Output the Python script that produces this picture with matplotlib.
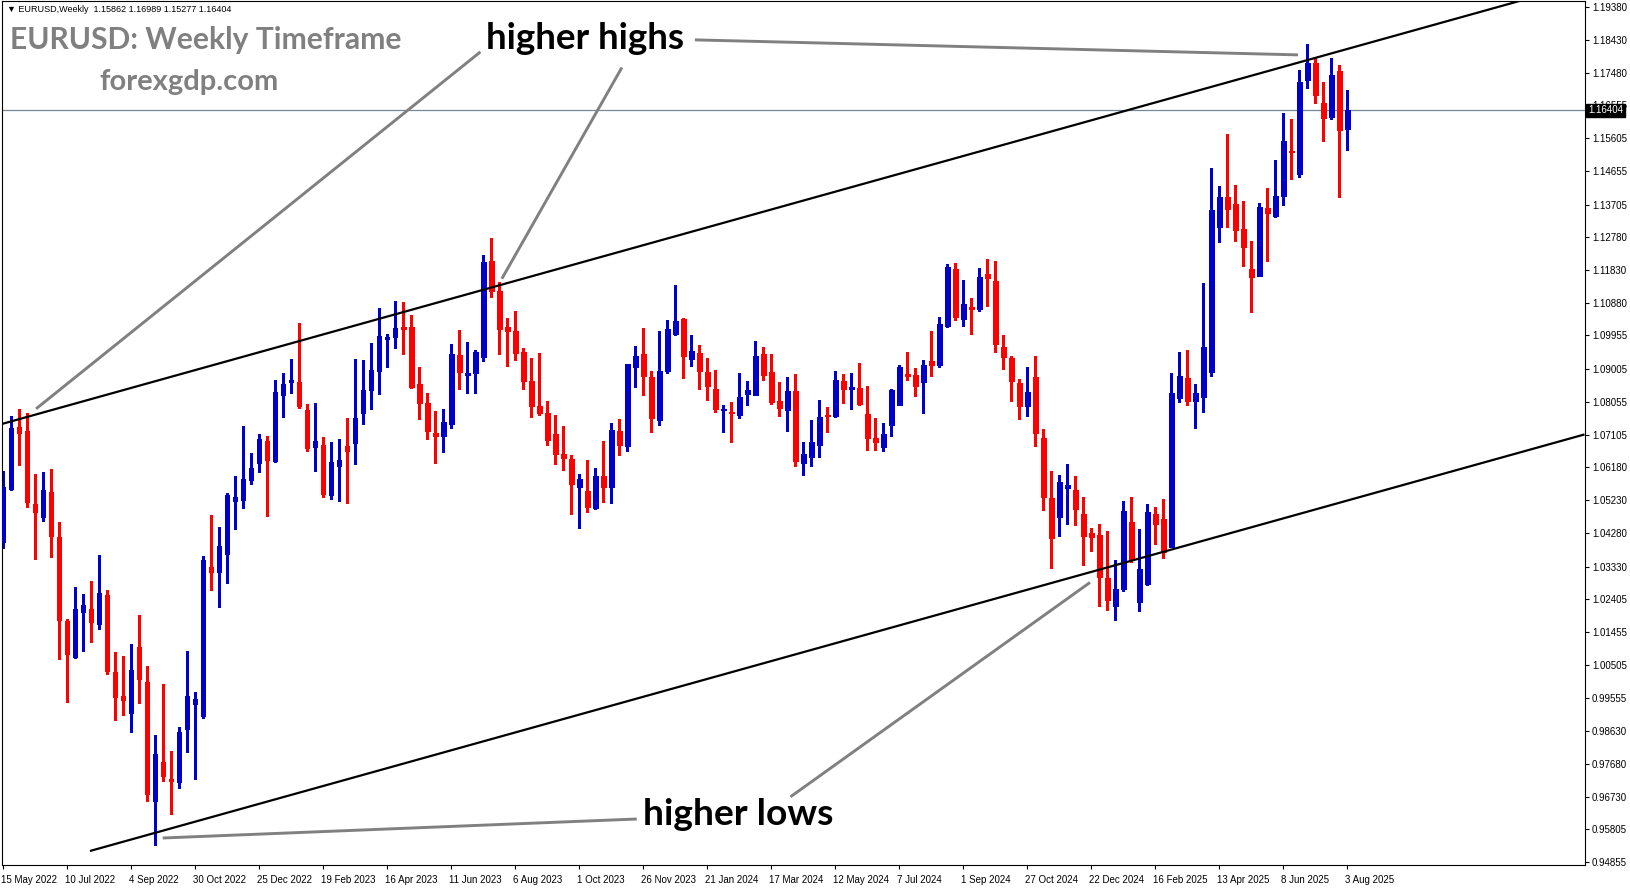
import numpy as np
import pandas as pd
import matplotlib
matplotlib.use("Agg")
import matplotlib.pyplot as plt
import matplotlib.transforms as mtransforms

## Data: EURUSD weekly candles, week of 15 May 2022 .. week of 3 Aug 2025
opens = [1.0405, 1.0556, 1.0733, 1.0722, 1.0513, 1.0474, 1.0547, 1.0418, 1.0178, 1.0075,
         1.0204, 1.0212, 1.0170, 1.0252, 1.0031, 0.9963, 0.9915, 1.0103, 1.0002, 0.9662,
         0.9773, 0.9725, 0.9717, 0.9869, 0.9940, 0.9905, 1.0332, 1.0319, 1.0368, 1.0522,
         1.0525, 1.0580, 1.0631, 1.0693, 1.0637, 1.0826, 1.0863, 1.0862, 1.0782, 1.0677,
         1.0682, 1.0539, 1.0620, 1.0679, 1.0686, 1.0772, 1.0838, 1.0895, 1.0985, 1.0990,
         1.1020, 1.1020, 1.0857, 1.0802, 1.0716, 1.0706, 1.0743, 1.0940, 1.0881, 1.0889,
         1.0935, 1.1209, 1.1123, 1.1020, 1.1009, 1.0948, 1.0865, 1.0794, 1.0774, 1.0713,
         1.0656, 1.0642, 1.0562, 1.0550, 1.0502, 1.0593, 1.0560, 1.0722, 1.0680, 1.0906,
         1.0942, 1.0877, 1.0754, 1.0895, 1.1001, 1.1043, 1.0929, 1.0946, 1.0891, 1.0842,
         1.0782, 1.0776, 1.0769, 1.0828, 1.0826, 1.0943, 1.0891, 1.0808, 1.0783, 1.0837,
         1.0631, 1.0646, 1.0683, 1.0768, 1.0766, 1.0865, 1.0841, 1.0845, 1.0771, 1.0702,
         1.0677, 1.0740, 1.0797, 1.0885, 1.0882, 1.0863, 1.0922, 1.0912, 1.1023, 1.1186,
         1.1044, 1.1077, 1.1072, 1.1172, 1.1152, 1.0963, 1.0931, 1.0859, 1.0792, 1.0877,
         1.0702, 1.0531, 1.0476, 1.0559, 1.0553, 1.0484, 1.0429, 1.0424, 1.0300, 1.0220,
         1.0270, 1.0461, 1.0233, 1.0284, 1.0484, 1.0470, 1.0390, 1.0817, 1.0874, 1.0809,
         1.0820, 1.0892, 1.1305, 1.1393, 1.1373, 1.1301, 1.1186, 1.1167, 1.1361, 1.1339,
         1.1396, 1.1525, 1.1457, 1.1729, 1.1777, 1.1662, 1.1622, 1.1754, 1.15862]
highs = [1.0607, 1.0765, 1.0785, 1.0773, 1.0599, 1.0604, 1.0613, 1.0461, 1.0182, 1.0275,
         1.0255, 1.0292, 1.0366, 1.0266, 1.0088, 1.0077, 1.0112, 1.0195, 1.0049, 0.9851,
         0.9997, 0.9805, 0.9873, 1.0091, 0.9974, 1.0363, 1.0481, 1.0448, 1.0544, 1.0593,
         1.0736, 1.0659, 1.0713, 1.0708, 1.0868, 1.0888, 1.0928, 1.1032, 1.0799, 1.0802,
         1.0704, 1.0691, 1.0699, 1.0759, 1.0928, 1.0926, 1.0974, 1.1074, 1.1000, 1.1094,
         1.1092, 1.1054, 1.0905, 1.0831, 1.0779, 1.0785, 1.0971, 1.1011, 1.0977, 1.0954,
         1.1226, 1.1275, 1.1149, 1.1046, 1.1066, 1.0960, 1.0931, 1.0945, 1.0808, 1.0768,
         1.0736, 1.0653, 1.0599, 1.0639, 1.0616, 1.0693, 1.0745, 1.0756, 1.0914, 1.0966,
         1.1017, 1.0894, 1.1008, 1.1040, 1.1140, 1.1046, 1.0996, 1.0968, 1.0931, 1.0897,
         1.0795, 1.0805, 1.0888, 1.0865, 1.0980, 1.0963, 1.0943, 1.0862, 1.0877, 1.0885,
         1.0690, 1.0753, 1.0811, 1.0791, 1.0894, 1.0885, 1.0888, 1.0917, 1.0851, 1.0759,
         1.0745, 1.0842, 1.0911, 1.0948, 1.0902, 1.0925, 1.1008, 1.1049, 1.1200, 1.1203,
         1.1155, 1.1103, 1.1189, 1.1215, 1.1209, 1.0997, 1.0937, 1.0871, 1.0905, 1.0937,
         1.0728, 1.0608, 1.0597, 1.0627, 1.0593, 1.0533, 1.0444, 1.0455, 1.0436, 1.0353,
         1.0522, 1.0533, 1.0441, 1.0513, 1.0505, 1.0526, 1.0888, 1.0949, 1.0954, 1.0857,
         1.1146, 1.1476, 1.1424, 1.1573, 1.1427, 1.1381, 1.1267, 1.1376, 1.1418, 1.1497,
         1.1634, 1.1616, 1.1757, 1.1831, 1.1791, 1.1722, 1.1791, 1.1771, 1.16989]
lows = [1.0386, 1.0553, 1.0624, 1.0503, 1.0355, 1.0465, 1.0362, 1.0068, 0.9946, 1.0070,
        1.0092, 1.0118, 1.0155, 1.0026, 0.9894, 0.9907, 0.9858, 0.9941, 0.9662, 0.9536,
        0.9720, 0.9624, 0.9700, 0.9803, 0.9725, 0.9899, 1.0266, 1.0218, 1.0287, 1.0440,
        1.0502, 1.0571, 1.0603, 1.0479, 1.0634, 1.0763, 1.0832, 1.0789, 1.0663, 1.0608,
        1.0534, 1.0528, 1.0522, 1.0514, 1.0628, 1.0743, 1.0786, 1.0829, 1.0906, 1.0961,
        1.0941, 1.0845, 1.0757, 1.0700, 1.0631, 1.0662, 1.0731, 1.0843, 1.0832, 1.0832,
        1.0921, 1.1107, 1.0941, 1.0909, 1.0926, 1.0843, 1.0763, 1.0769, 1.0683, 1.0628,
        1.0611, 1.0485, 1.0445, 1.0491, 1.0499, 1.0519, 1.0514, 1.0654, 1.0663, 1.0849,
        1.0826, 1.0720, 1.0740, 1.0889, 1.0998, 1.0875, 1.0909, 1.0843, 1.0812, 1.0777,
        1.0720, 1.0691, 1.0760, 1.0795, 1.0826, 1.0869, 1.0800, 1.0766, 1.0723, 1.0620,
        1.0597, 1.0620, 1.0646, 1.0720, 1.0763, 1.0803, 1.0786, 1.0797, 1.0666, 1.0668,
        1.0663, 1.0706, 1.0797, 1.0869, 1.0823, 1.0774, 1.0880, 1.0906, 1.1020, 1.1041,
        1.1024, 1.1001, 1.1067, 1.1081, 1.0949, 1.0898, 1.0809, 1.0757, 1.0766, 1.0680,
        1.0494, 1.0330, 1.0422, 1.0456, 1.0451, 1.0339, 1.0379, 1.0221, 1.0210, 1.0180,
        1.0263, 1.0347, 1.0207, 1.0279, 1.0397, 1.0358, 1.0390, 1.0804, 1.0795, 1.0731,
        1.0775, 1.0878, 1.1262, 1.1307, 1.1265, 1.1196, 1.1063, 1.1167, 1.1210, 1.1336,
        1.1370, 1.1444, 1.1451, 1.1705, 1.1662, 1.1554, 1.1616, 1.1391, 1.15277]
closes = [1.0560, 1.0730, 1.0717, 1.0517, 1.0491, 1.0553, 1.0422, 1.0181, 1.0084, 1.0212,
          1.0223, 1.0173, 1.0258, 1.0035, 0.9960, 0.9952, 1.0037, 1.0010, 0.9682, 0.9796,
          0.9733, 0.9720, 0.9859, 0.9962, 0.9953, 1.0351, 1.0319, 1.0392, 1.0537, 1.0533,
          1.0584, 1.0616, 1.0699, 1.0640, 1.0834, 1.0857, 1.0868, 1.0792, 1.0674, 1.0693,
          1.0542, 1.0633, 1.0639, 1.0663, 1.0759, 1.0839, 1.0897, 1.0994, 1.0990, 1.1017,
          1.1015, 1.0847, 1.0803, 1.0723, 1.0706, 1.0748, 1.0943, 1.0892, 1.0888, 1.0948,
          1.1206, 1.1124, 1.1015, 1.1007, 1.0944, 1.0866, 1.0792, 1.0772, 1.0697, 1.0657,
          1.0643, 1.0571, 1.0584, 1.0505, 1.0593, 1.0562, 1.0725, 1.0683, 1.0914, 1.0937,
          1.0880, 1.0760, 1.0894, 1.1014, 1.1037, 1.0938, 1.0951, 1.0895, 1.0852, 1.0786,
          1.0785, 1.0774, 1.0819, 1.0839, 1.0937, 1.0883, 1.0806, 1.0789, 1.0837, 1.0637,
          1.0656, 1.0690, 1.0762, 1.0766, 1.0868, 1.0843, 1.0848, 1.0799, 1.0703, 1.0689,
          1.0713, 1.0839, 1.0905, 1.0880, 1.0852, 1.0911, 1.0912, 1.1029, 1.1192, 1.1047,
          1.1086, 1.1072, 1.1163, 1.1160, 1.0972, 1.0935, 1.0866, 1.0794, 1.0834, 1.0717,
          1.0534, 1.0416, 1.0576, 1.0567, 1.0499, 1.0422, 1.0419, 1.0304, 1.0238, 1.0270,
          1.0493, 1.0353, 1.0326, 1.0490, 1.0454, 1.0376, 1.0831, 1.0880, 1.0809, 1.0831,
          1.0963, 1.1355, 1.1393, 1.1359, 1.1299, 1.1248, 1.1164, 1.1364, 1.1347, 1.1395,
          1.1553, 1.1521, 1.1721, 1.1777, 1.1686, 1.1620, 1.1742, 1.1583, 1.16404]

start_week = "2022-05-15"
price_ticks = [1.19380, 1.18430, 1.17480, 1.16555, 1.15605, 1.14655, 1.13705, 1.12780,
               1.11830, 1.10880, 1.09955, 1.09005, 1.08055, 1.07105, 1.06180, 1.05230,
               1.04280, 1.03330, 1.02405, 1.01455, 1.00505, 0.99555, 0.98630, 0.97680,
               0.96730, 0.95805, 0.94855]
last_price = 1.16404

# channel lines (bar index, price)
upper_channel = ([-0.125, 169.6], [1.07420, 1.18268])
lower_channel = ([11.0, 197.5], [0.95190, 1.07110])
# gray pointer lines
pointers = [([59.66, 4.14], [1.18082, 1.07855]),
            ([77.34, 62.34], [1.17634, 1.11581]),
            ([86.46, 161.84], [1.18426, 1.17996]),
            ([79.2, 19.96], [0.96098, 0.95554]),
            ([98.41, 135.84], [0.96734, 1.02877])]

## Figure
W, H = 1631, 888
fig = plt.figure(figsize=(W / 100, H / 100), dpi=100)
ax = fig.add_axes([2 / W, 1 - 865 / H, 1583 / W, 864 / H])

o = np.array(opens); h = np.array(highs); l = np.array(lows); c = np.array(closes)
n = np.arange(len(o))
up = c >= o
cols = np.where(up, '#0000CD', '#FF0000')

ax.vlines(n, l, h, colors=cols, linewidth=0.75, antialiased=False, zorder=2)
body_lo = np.minimum(o, c)
body_h = np.maximum(np.abs(c - o), 0.0003)
ax.bar(n, body_h, bottom=body_lo, width=0.6, color=cols, edgecolor=cols,
       linewidth=0.4, antialiased=False, zorder=3)

# current price line
ax.axhline(last_price, color='#778899', linewidth=0.9, zorder=1)

# channel
slope = (upper_channel[1][1] - upper_channel[1][0]) / (upper_channel[0][1] - upper_channel[0][0])
ux = [upper_channel[0][0], 200]
uy = [upper_channel[1][0], upper_channel[1][0] + slope * (200 - upper_channel[0][0])]
ax.plot(ux, uy, color='black', linewidth=1.6, zorder=4)
ax.plot(lower_channel[0], lower_channel[1], color='black', linewidth=1.6, zorder=4)

for px, py in pointers:
    ax.plot(px, py, color='#808080', linewidth=2.1, zorder=4, solid_capstyle='butt')

ax.set_xlim(-0.125, 197.7)
ax.set_ylim(0.9478, 1.1954)

# axes look
for s in ax.spines.values():
    s.set_linewidth(0.8)
    s.set_color('black')

ax.yaxis.tick_right()
ax.set_yticks(price_ticks)
ax.set_yticklabels([f"{v:.5f}" for v in price_ticks], fontsize=7, family='Liberation Sans')
ax.tick_params(axis='y', direction='out', length=3, width=0.8, pad=2)

dates = pd.date_range(start_week, periods=len(o), freq='7D')
tick_idx = np.arange(0, len(o), 8)
ax.set_xticks(tick_idx)
ax.set_xticklabels([f"{d.day} {d:%b %Y}" for d in dates[tick_idx]], fontsize=7,
                   family='Liberation Sans', ha='left')
ax.tick_params(axis='x', direction='out', length=3, width=0.8, pad=4)
offset = mtransforms.ScaledTranslation(-2 / 100, 0, fig.dpi_scale_trans)
for lab in ax.get_xticklabels():
    lab.set_transform(lab.get_transform() + offset)

# price box on the right axis
box_tr = mtransforms.blended_transform_factory(ax.transAxes, ax.transData)
ax.text(1.0 + 3 / 1583, last_price, f"{last_price:.5f}", transform=box_tr, fontsize=7,
        family='Liberation Sans', color='white', ha='left', va='center', clip_on=False,
        zorder=10, bbox=dict(boxstyle='square,pad=0.18', fc='black', ec='black'))

# texts
fig.text(7 / W, 1 - 10 / H, "\u25BC EURUSD,Weekly  1.15862 1.16989 1.15277 1.16404",
         fontsize=6.5, family=['Liberation Sans', 'DejaVu Sans'], va='center', ha='left')
fig.text(10 / W, 1 - 49 / H, "EURUSD: Weekly Timeframe", fontsize=21.6, family='Lato',
         fontweight='bold', color='#808080', va='baseline', ha='left')
fig.text(99 / W, 1 - 90 / H, "forexgdp.com", fontsize=21, family='Lato',
         fontweight='bold', color='#808080', va='baseline', ha='left')
fig.text(486 / W, 1 - 49 / H, "higher highs", fontsize=26.5, family='Lato',
         fontweight='bold', color='black', va='baseline', ha='left')
fig.text(643 / W, 1 - 825 / H, "higher lows", fontsize=26.7, family='Lato',
         fontweight='bold', color='black', va='baseline', ha='left')

fig.savefig("out.png", dpi=100, facecolor='white')
